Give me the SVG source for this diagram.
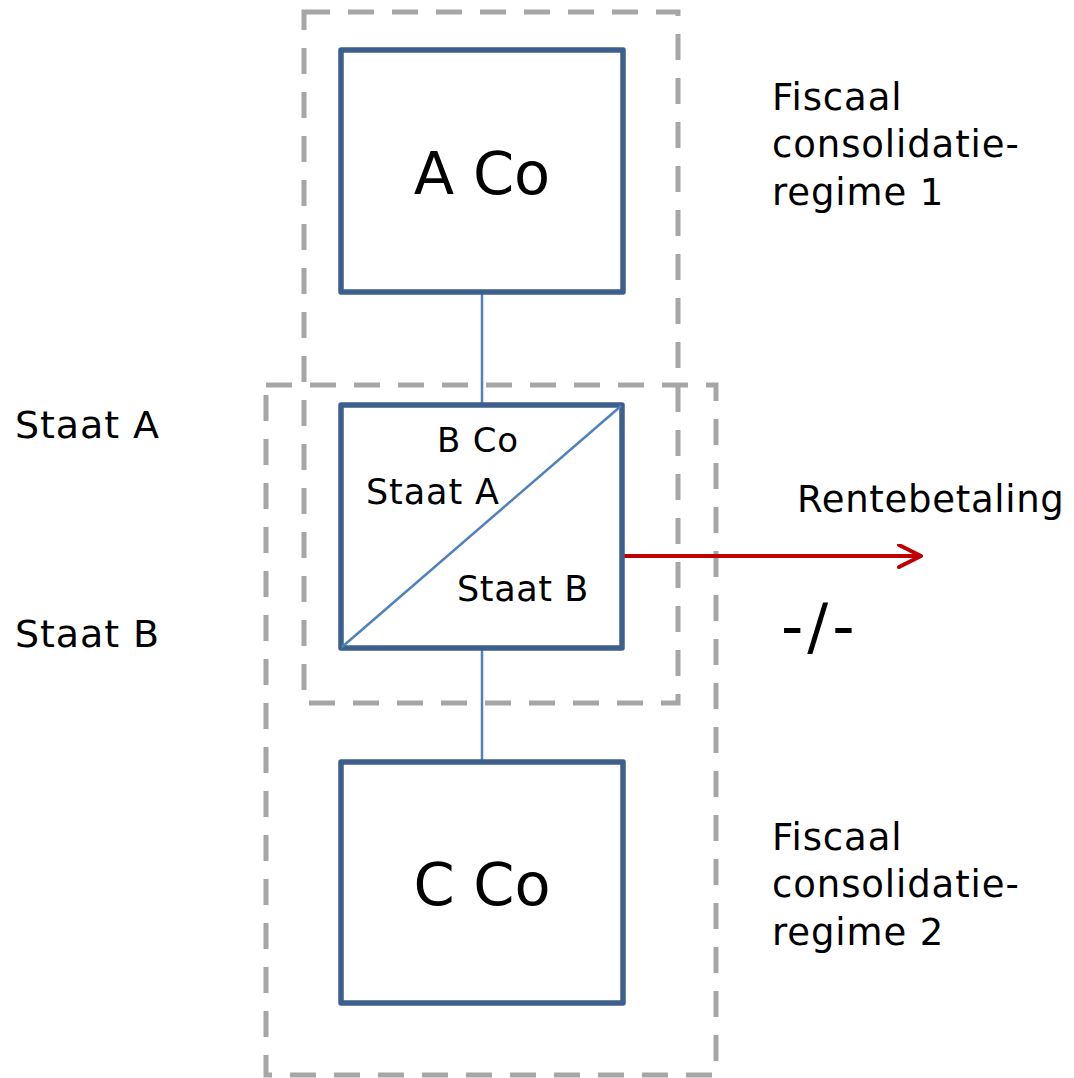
<svg xmlns="http://www.w3.org/2000/svg" width="1074" height="1078" viewBox="0 0 1074 1078">
<style>
.t{font-family:"DejaVu Sans","Verdana",sans-serif;fill:#000}
.box{fill:#fff;stroke:#3c5f8c;stroke-width:5.5;stroke-linejoin:round}
.dash{fill:none;stroke:#a6a6a6;stroke-width:5;stroke-dasharray:26 18}
.con{stroke:#4f81bd;stroke-width:2.5;fill:none}
.side{font-size:37px;letter-spacing:0.9px}
</style>
<defs>
<marker id="arr" markerUnits="userSpaceOnUse" markerWidth="40" markerHeight="40" refX="24" refY="12" orient="auto">
<path d="M2,1 L24,12 L2,23" fill="none" stroke="#c00000" stroke-width="4" stroke-linecap="round" stroke-linejoin="round"/>
</marker>
</defs>
<rect width="1074" height="1078" fill="#fff"/>
<g id="regime1-frame"><rect class="dash" x="304" y="12" width="374" height="691"/></g>
<g id="regime2-frame"><rect class="dash" x="266" y="385" width="450" height="690"/></g>
<g id="connectors">
<line class="con" x1="482" y1="292" x2="482" y2="404"/>
<line class="con" x1="482" y1="648" x2="482" y2="762"/>
<line x1="623" y1="556" x2="921" y2="556" stroke="#c00000" stroke-width="4" marker-end="url(#arr)"/>
</g>
<g id="aco">
<rect class="box" x="341" y="50" width="282" height="242"/>
<text class="t" x="482" y="194" font-size="59" text-anchor="middle">A Co</text>
</g>
<g id="bco">
<rect class="box" x="341" y="405" width="281" height="243"/>
<line class="con" x1="342" y1="647" x2="621" y2="406" stroke-width="2"/>
<text class="t" x="437" y="452" font-size="34" letter-spacing="0.8">B Co</text>
<text class="t" x="366" y="504" font-size="35" letter-spacing="0.9">Staat A</text>
<text class="t" x="457" y="601" font-size="35" letter-spacing="0.6">Staat B</text>
</g>
<g id="cco">
<rect class="box" x="341" y="762" width="282" height="241"/>
<text class="t" x="482" y="905" font-size="59" text-anchor="middle">C Co</text>
</g>
<g id="labels">
<text class="t" x="15" y="438" font-size="38" letter-spacing="0.9">Staat A</text>
<text class="t" x="15" y="647" font-size="38" letter-spacing="0.9">Staat B</text>
<text class="t" x="797" y="512" font-size="37" letter-spacing="0.7">Rentebetaling</text>
<text class="t" x="781" y="648" font-size="62" letter-spacing="4">-/-</text>
<text class="t side"><tspan x="772" y="110">Fiscaal</tspan><tspan x="772" y="157">consolidatie-</tspan><tspan x="772" y="205">regime 1</tspan></text>
<text class="t side"><tspan x="772" y="850">Fiscaal</tspan><tspan x="772" y="897">consolidatie-</tspan><tspan x="772" y="945">regime 2</tspan></text>
</g>
</svg>
